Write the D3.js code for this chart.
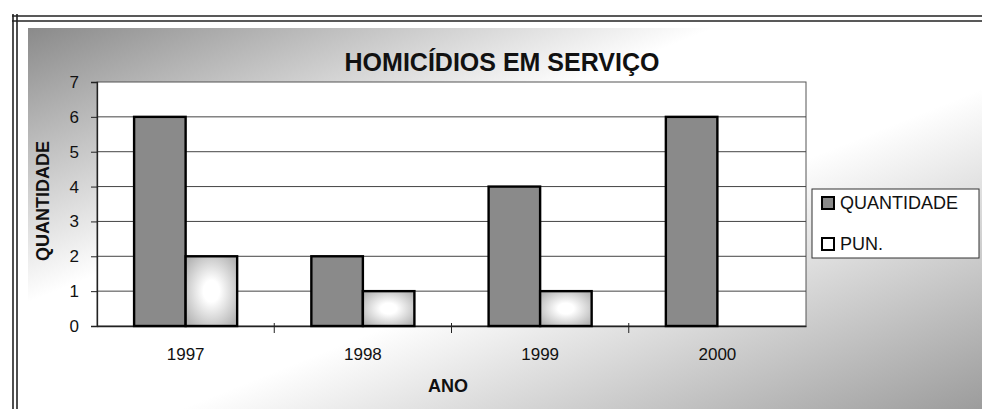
<!DOCTYPE html>
<html>
<head>
<meta charset="utf-8">
<script src="https://cdn.jsdelivr.net/npm/d3@7"></script>
<style>
  body { margin: 0; background: #fff; }
  svg { display: block; font-family: "Liberation Sans", Arial, sans-serif; }
</style>
</head>
<body>
<div id="chart"></div>
<script>
// chart data
var years = ["1997", "1998", "1999", "2000"];
var series = ["QUANTIDADE", "PUN."];
var quantidade = [6, 2, 4, 6];
var pun = [2, 1, 1, 0];
var yTicks = [0, 1, 2, 3, 4, 5, 6, 7];

var width = 982;
var height = 409;

var svg = d3.select("#chart")
  .append("svg")
  .attr("width", width)
  .attr("height", height);

var defs = svg.append("defs");

// diagonal gray -> white -> gray background like the old excel chart area
var bg = defs.append("linearGradient")
  .attr("id", "bgGrad")
  .attr("x1", 0).attr("y1", 0)
  .attr("x2", 1).attr("y2", 1);
bg.append("stop").attr("offset", 0).attr("stop-color", "#8a8a8a");
bg.append("stop").attr("offset", 0.36).attr("stop-color", "#ffffff");
bg.append("stop").attr("offset", 0.58).attr("stop-color", "#ffffff");
bg.append("stop").attr("offset", 1).attr("stop-color", "#9c9c9c");

// light bars: white in the middle, gray towards edges
var pg = defs.append("radialGradient")
  .attr("id", "punGrad")
  .attr("cx", 0.5).attr("cy", 0.5).attr("r", 0.62);
pg.append("stop").attr("offset", 0.25).attr("stop-color", "#ffffff");
pg.append("stop").attr("offset", 1).attr("stop-color", "#b5b5b5");

// outer frame (double lines left and top)
svg.append("rect")
  .attr("x", 28).attr("y", 28)
  .attr("width", width - 28).attr("height", height - 28)
  .attr("fill", "url(#bgGrad)");

[13, 17].forEach(function(x) {
  svg.append("line")
    .attr("x1", x).attr("x2", x)
    .attr("y1", 14).attr("y2", height)
    .attr("stroke", "#222").attr("stroke-width", 1.6);
});
[16, 21].forEach(function(y) {
  svg.append("line")
    .attr("x1", 12).attr("x2", width)
    .attr("y1", y).attr("y2", y)
    .attr("stroke", "#222").attr("stroke-width", 1.6);
});

// plot area
var margin = { left: 97, right: 806, top: 82, bottom: 326 };

var x0 = d3.scaleBand()
  .domain(years)
  .range([margin.left, margin.right]);

var x1 = d3.scaleBand()
  .domain(series)
  .range([0, x0.bandwidth()])
  .paddingOuter(0.72);

var y = d3.scaleLinear()
  .domain([0, 7])
  .range([margin.bottom, margin.top]);

svg.append("rect")
  .attr("x", margin.left).attr("y", margin.top)
  .attr("width", margin.right - margin.left)
  .attr("height", margin.bottom - margin.top)
  .attr("fill", "#fff")
  .attr("stroke", "#555")
  .attr("stroke-width", 1);

// gridlines
svg.append("g")
  .selectAll("line")
  .data(yTicks.filter(function(d) { return d > 0 && d < 7; }))
  .enter().append("line")
  .attr("x1", margin.left).attr("x2", margin.right)
  .attr("y1", function(d) { return y(d); })
  .attr("y2", function(d) { return y(d); })
  .attr("stroke", "#444")
  .attr("stroke-width", 1);

// y axis
var yAxis = svg.append("g")
  .attr("transform", "translate(" + margin.left + ",0)")
  .call(d3.axisLeft(y).tickValues(yTicks).tickFormat(d3.format("d")).tickSize(6).tickPadding(12));
yAxis.select(".domain").attr("stroke", "#222").attr("stroke-width", 1.3);
yAxis.selectAll(".tick line").attr("stroke", "#222");
yAxis.selectAll("text")
  .attr("font-size", 17)
  .attr("font-family", "Liberation Sans, Arial, sans-serif")
  .attr("fill", "#111");

// x axis: ticks sit between the categories
var xAxis = svg.append("g")
  .attr("transform", "translate(0," + margin.bottom + ")")
  .call(d3.axisBottom(x0).tickSize(0).tickPadding(22));
xAxis.select(".domain").attr("stroke", "#222").attr("stroke-width", 1.3);
xAxis.selectAll("text")
  .attr("font-size", 17)
  .attr("font-family", "Liberation Sans, Arial, sans-serif")
  .attr("fill", "#111");
xAxis.selectAll(".sep")
  .data(years.slice(1))
  .enter().append("line")
  .attr("class", "sep")
  .attr("x1", function(d) { return x0(d); })
  .attr("x2", function(d) { return x0(d); })
  .attr("y1", -3).attr("y2", 7)
  .attr("stroke", "#222");

// bars
var rows = years.map(function(yr, i) {
  return { year: yr, values: [
    { key: "QUANTIDADE", value: quantidade[i] },
    { key: "PUN.", value: pun[i] }
  ] };
});

var groups = svg.append("g")
  .selectAll("g")
  .data(rows)
  .enter().append("g")
  .attr("transform", function(d) { return "translate(" + x0(d.year) + ",0)"; });

groups.selectAll("rect")
  .data(function(d) { return d.values.filter(function(v) { return v.value > 0; }); })
  .enter().append("rect")
  .attr("x", function(d) { return x1(d.key); })
  .attr("y", function(d) { return y(d.value); })
  .attr("width", x1.bandwidth())
  .attr("height", function(d) { return y(0) - y(d.value); })
  .attr("fill", function(d) { return d.key === "QUANTIDADE" ? "#8a8a8a" : "url(#punGrad)"; })
  .attr("stroke", "#000")
  .attr("stroke-width", 2.4);

// title
svg.append("text")
  .attr("x", 502).attr("y", 71)
  .attr("text-anchor", "middle")
  .attr("font-size", 25)
  .attr("font-weight", "bold")
  .attr("fill", "#111")
  .text("HOMICÍDIOS EM SERVIÇO");

// axis titles
svg.append("text")
  .attr("transform", "translate(49,201) rotate(-90)")
  .attr("text-anchor", "middle")
  .attr("font-size", 18)
  .attr("font-weight", "bold")
  .attr("fill", "#111")
  .text("QUANTIDADE");

svg.append("text")
  .attr("x", 448).attr("y", 392)
  .attr("text-anchor", "middle")
  .attr("font-size", 18)
  .attr("font-weight", "bold")
  .attr("fill", "#111")
  .text("ANO");

// legend
var legend = svg.append("g").attr("transform", "translate(812,189)");
legend.append("rect")
  .attr("width", 167).attr("height", 69)
  .attr("fill", "#fff")
  .attr("stroke", "#333")
  .attr("stroke-width", 1);

var item = legend.selectAll(".item")
  .data(series)
  .enter().append("g")
  .attr("class", "item")
  .attr("transform", function(d, i) { return "translate(10," + (8 + i * 41) + ")"; });

item.append("rect")
  .attr("width", 12).attr("height", 12)
  .attr("fill", function(d, i) { return i === 0 ? "#8a8a8a" : "#fff"; })
  .attr("stroke", "#000")
  .attr("stroke-width", 2);

item.append("text")
  .attr("x", 18).attr("y", 12)
  .attr("font-size", 18)
  .attr("fill", "#111")
  .text(function(d) { return d; });
</script>
</body>
</html>
